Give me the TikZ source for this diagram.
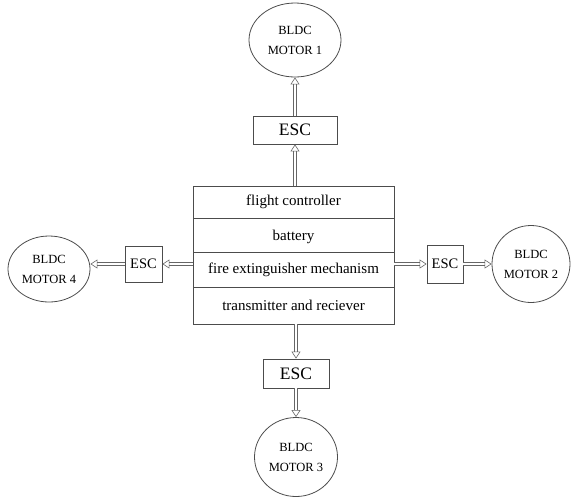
\documentclass[tikz,border=0pt]{standalone}
\usepackage{fontspec}
\setmainfont{Liberation Serif}
\usetikzlibrary{shapes.geometric,arrows.meta}

\begin{document}
\begin{tikzpicture}[x=1pt, y=-1pt, line width=0.8pt,
    row/.style={draw=black!70, minimum width=201pt, inner sep=0pt, font=\fontsize{15}{17}\selectfont},
    esc/.style={draw=black!70, inner sep=0pt, font=\fontsize{14.5}{17}\selectfont},
    motor/.style={draw=black!70, ellipse, inner sep=0pt, align=center, font=\fontsize{12.5}{20}\selectfont},
    feed/.style={draw=black!60, double=white, double distance=2.6pt, line width=0.6pt,
        -{Triangle[open, length=7pt, width=9pt]}}]

	\useasboundingbox (0,0) rectangle (572,499);

	% main block
	\node[row, minimum height=32pt] (fc)   at (293.5, 202)   {flight controller};
	\node[row, minimum height=34pt, text depth=-2pt] (bat) at (293.5, 235) {battery};
	\node[row, minimum height=35pt] (fire) at (293.5, 269.5) {fire extinguisher mechanism};
	\node[row, minimum height=37pt] (trx)  at (293.5, 305.5) {transmitter and reciever};

	% ESC blocks
	\node[esc, minimum width=84pt, minimum height=28pt, font=\fontsize{17.5}{19}\selectfont] (escT) at (295, 130) {ESC};
	\node[esc, minimum width=37pt, minimum height=36pt] (escL) at (143.5, 264) {ESC};
	\node[esc, minimum width=36pt, minimum height=38pt] (escR) at (445, 264) {ESC};
	\node[esc, minimum width=66pt, minimum height=29pt, font=\fontsize{17.5}{19}\selectfont] (escB) at (296, 373.5) {ESC};

	% motors
	\node[motor, minimum width=92pt, minimum height=74pt] (m1) at (295, 40)  {BLDC\\MOTOR 1};
	\node[motor, minimum width=78pt, minimum height=77pt] (m2) at (531, 264) {BLDC\\MOTOR 2};
	\node[motor, minimum width=83pt, minimum height=79pt] (m3) at (296, 457) {BLDC\\MOTOR 3};
	\node[motor, minimum width=82pt, minimum height=66pt] (m4) at (49, 269)  {BLDC\\MOTOR 4};

	% links
	\draw[feed] (escT.south |- fc.north) -- (escT.south);
	\draw[feed] (escT.north) -- (m1.south);
	\draw[feed] (escB.north |- trx.south) -- (escB.north);
	\draw[feed] (escB.south) -- (m3.north);
	\draw[feed] (fire.east |- escR.west) -- (escR.west);
	\draw[feed] (escR.east) -- (m2.west);
	\draw[feed] (fire.west |- escL.east) -- (escL.east);
	\draw[feed] (escL.west) -- (m4.east |- escL.west);
\end{tikzpicture}
\end{document}
